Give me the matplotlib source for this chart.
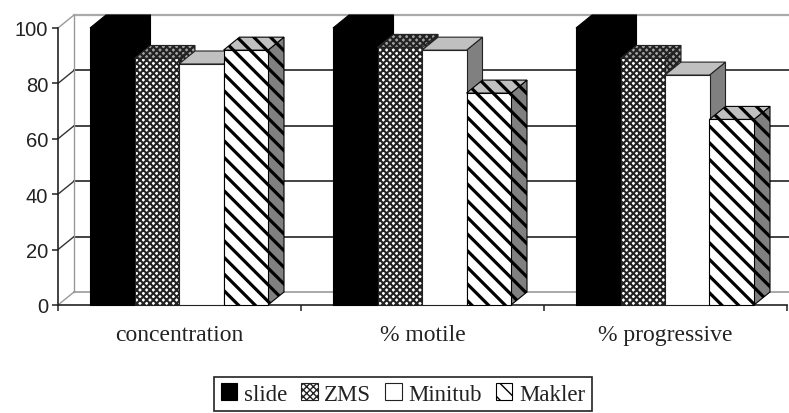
import matplotlib
matplotlib.use("Agg")
import matplotlib.pyplot as plt
from matplotlib.patches import Polygon, Patch

categories = ["concentration", "% motile", "% progressive"]
series_names = ["slide", "ZMS", "Minitub", "Makler"]
slide = [100, 100, 100]
zms = [89, 93, 89]
minitub = [87, 92, 83]
makler = [92, 76.5, 67]
y_ticks = [0, 20, 40, 60, 80, 100]

plt.rcParams["font.family"] = ["Liberation Serif", "DejaVu Serif"]

W, H = 789, 414
fig = plt.figure(figsize=(W / 100, H / 100), dpi=100)
# front plane of the fake 3d box, in pixels
left, right, bottom, top = 58, 787, 306, 29
ax = fig.add_axes([left / W, 1 - bottom / H, (right - left) / W, (bottom - top) / H])
ax.set_xlim(0, 3)
ax.set_ylim(0, 100)
ax.patch.set_visible(False)
for s in ["top", "right"]:
    ax.spines[s].set_visible(False)
for s in ["left", "bottom"]:
    ax.spines[s].set_color("#222222")
    ax.spines[s].set_linewidth(1.2)

dx = 16 / (right - left) * 3
dy = 13 / (bottom - top) * 100

# back wall and floor
for v in y_ticks:
    ax.plot([0, dx], [v, v + dy], color="#999999" if v in (0, 100) else "#333333", lw=1.0, clip_on=False, zorder=1)
    if v == 0:
        ax.plot([dx, 3.1], [v + dy, v + dy], color="#999999", lw=1.2, clip_on=False, zorder=1)
    elif v == 100:
        ax.plot([dx, 3.1], [v + dy, v + dy], color="#aaaaaa", lw=1.6, clip_on=False, zorder=1)
    else:
        ax.plot([dx, 3.1], [v + dy, v + dy], color="#222222", lw=1.2, clip_on=False, zorder=1)
ax.plot([dx, dx], [dy, 100 + dy], color="#999999", lw=1.0, clip_on=False, zorder=1)

bar_w = 44.5 / (right - left) * 3
start = 32 / (right - left) * 3
styles = [
    dict(face="black", hatch=None, edge="black", top="black", side="black", hlw=1.0),
    dict(face="white", hatch="xxxxx", edge="#222222", top="#a0a0a0", side="#a0a0a0", hlw=1.5),
    dict(face="white", hatch=None, edge="#222222", top="#c0c0c0", side="#808080", hlw=1.0),
    dict(face="white", hatch="\\\\", edge="black", top="#c0c0c0", side="#808080", hlw=2.3),
]
all_vals = [slide, zms, minitub, makler]

for i, (vals, st) in enumerate(zip(all_vals, styles)):
    z = 3 + i * 0.1
    for g, v in enumerate(vals):
        x0 = g + start + i * bar_w
        x1 = x0 + bar_w
        side = [(x1, 0), (x1 + dx, dy), (x1 + dx, v + dy), (x1, v)]
        top_face = [(x0, v), (x0 + dx, v + dy), (x1 + dx, v + dy), (x1, v)]
        for pts, col in [(side, st["side"]), (top_face, st["top"])]:
            p = Polygon(pts, closed=True, facecolor=col, edgecolor=st["edge"],
                        hatch=st["hatch"], lw=0.8, clip_on=False, zorder=z)
            p.set_hatch_linewidth(st["hlw"])
            ax.add_patch(p)
        bars = ax.bar(x0, v, bar_w, align="edge", color=st["face"], edgecolor=st["edge"],
                      hatch=st["hatch"], lw=0.8, clip_on=False, zorder=z + 0.05)
        bars[0].set_hatch_linewidth(st["hlw"])

ax.set_yticks(y_ticks)
ax.set_xticks([0, 1, 2, 3])
ax.set_xticklabels([])
ax.tick_params(axis="both", length=4, width=1.1, color="#222222", direction="out")
ax.tick_params(axis="y", pad=3, labelcolor="#222222")
for lab in ax.get_yticklabels():
    lab.set_family(["Liberation Sans", "DejaVu Sans"])
    lab.set_fontsize(14.5)
for g, name in enumerate(categories):
    ax.text(g + 0.5, -10.5, name, ha="center", va="center", fontsize=17, color="#222222")

handles = []
for st in styles:
    h = Patch(facecolor=st["face"], edgecolor=st["edge"], hatch=st["hatch"], lw=0.8)
    h.set_hatch_linewidth(st["hlw"] * 0.7)
    handles.append(h)
leg = fig.legend(handles, series_names, loc="center", bbox_to_anchor=(403 / W, 1 - 395 / H),
                 ncol=4, fontsize=16.5, frameon=True, fancybox=False, edgecolor="#222222",
                 framealpha=1, handlelength=0.72, handleheight=0.72, handletextpad=0.3,
                 columnspacing=0.6, borderpad=0.3, borderaxespad=0, labelcolor="#222222")
leg.get_frame().set_linewidth(1.2)

fig.savefig("out.png", dpi=100)
